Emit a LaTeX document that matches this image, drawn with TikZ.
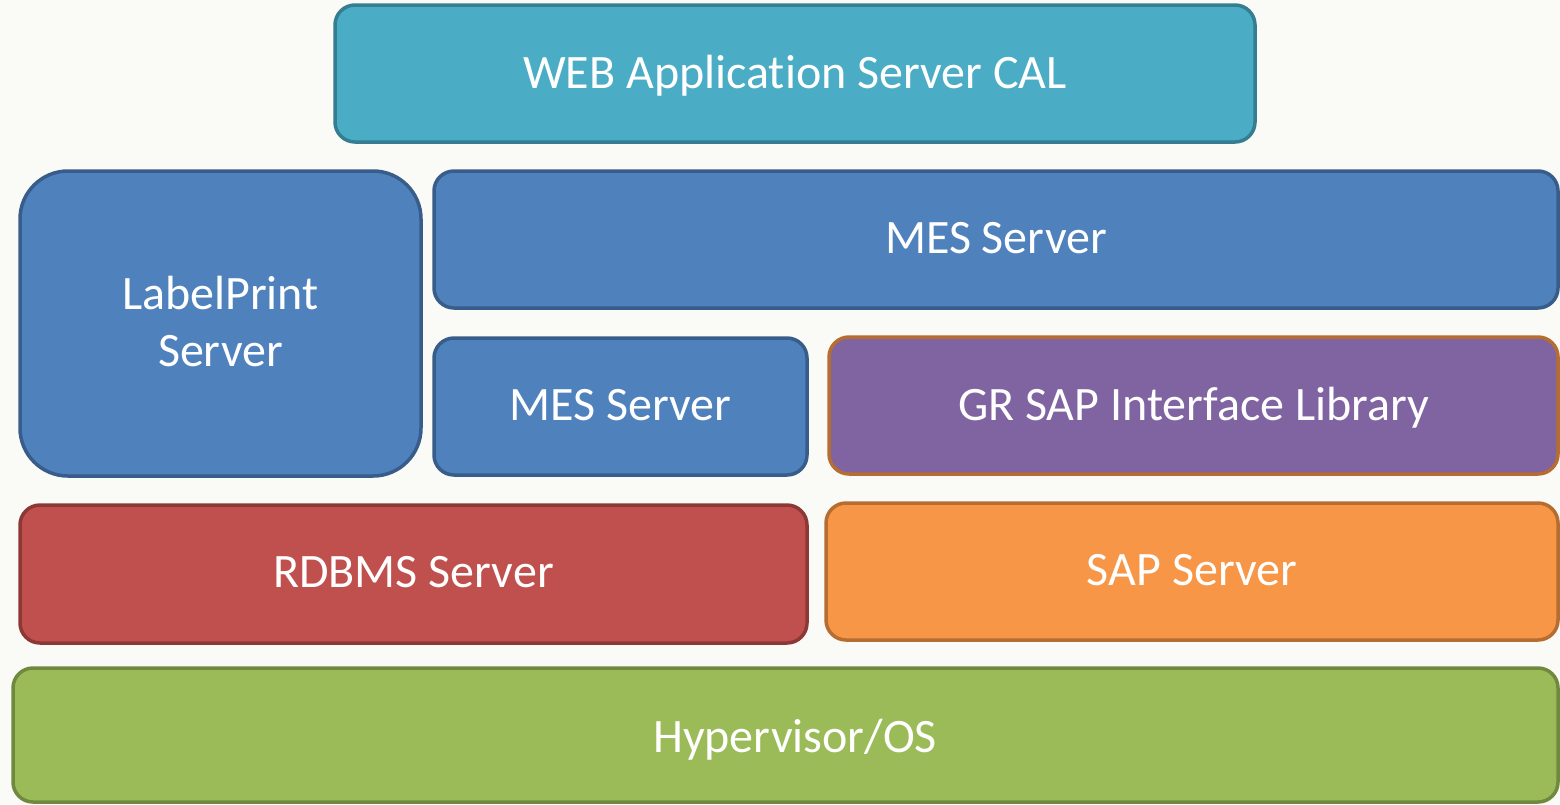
\documentclass[tikz,border=0pt]{standalone}
\usepackage{fontspec}
\setmainfont[Ligatures=NoCommon]{Carlito}
\definecolor{bg}{HTML}{FAFBF6}
\definecolor{webf}{HTML}{4BACC6}\definecolor{webd}{HTML}{357D91}
\definecolor{bluf}{HTML}{4F81BD}\definecolor{blud}{HTML}{385D8A}
\definecolor{purf}{HTML}{8064A2}\definecolor{orad}{HTML}{B66D31}
\definecolor{redf}{HTML}{C0504D}\definecolor{redd}{HTML}{8C3836}
\definecolor{oraf}{HTML}{F79646}
\definecolor{grnf}{HTML}{9BBB59}\definecolor{grnd}{HTML}{71893F}
\tikzset{
  layer/.style={rectangle, rounded corners=20pt, line width=3.5pt, text=white,
    font=\fontsize{48}{57}\selectfont, align=center, inner sep=0pt, text depth=4pt},
}
\begin{document}
\begin{tikzpicture}[x=1pt,y=-1pt]
\fill[bg] (0,0) rectangle (1560,804);
\useasboundingbox (0,0) rectangle (1560,804);
\node[layer, fill=webf, draw=webd, minimum width=920pt, minimum height=137pt] (web) at (795,73.5) {WEB Application Server CAL};
\node[layer, fill=bluf, draw=blud, rounded corners=48pt, minimum width=401pt, minimum height=305pt] (lp) at (220.5,323.5) {LabelPrint\\Server};
\node[layer, fill=bluf, draw=blud, minimum width=1124pt, minimum height=137pt] (mes1) at (996,239.5) {MES Server};
\node[layer, fill=bluf, draw=blud, minimum width=373pt, minimum height=137pt] (mes2) at (620.5,406.5) {MES Server};
\node[layer, fill=purf, draw=orad, minimum width=729pt, minimum height=137pt] (gr) at (1193.5,405.5) {GR SAP Interface Library};
\node[layer, fill=redf, draw=redd, minimum width=787pt, minimum height=138pt] (rdb) at (413.5,574) {RDBMS Server};
\node[layer, fill=oraf, draw=orad, minimum width=732pt, minimum height=137pt] (sap) at (1192,571.5) {SAP Server};
\node[layer, fill=grnf, draw=grnd, minimum width=1545pt, minimum height=134pt] (hyp) at (785.5,735) {};
\node[text=white, font=\fontsize{48}{57}\selectfont, text depth=4pt] (hyptext) at (795,738) {Hypervisor/OS};
\end{tikzpicture}
\end{document}
